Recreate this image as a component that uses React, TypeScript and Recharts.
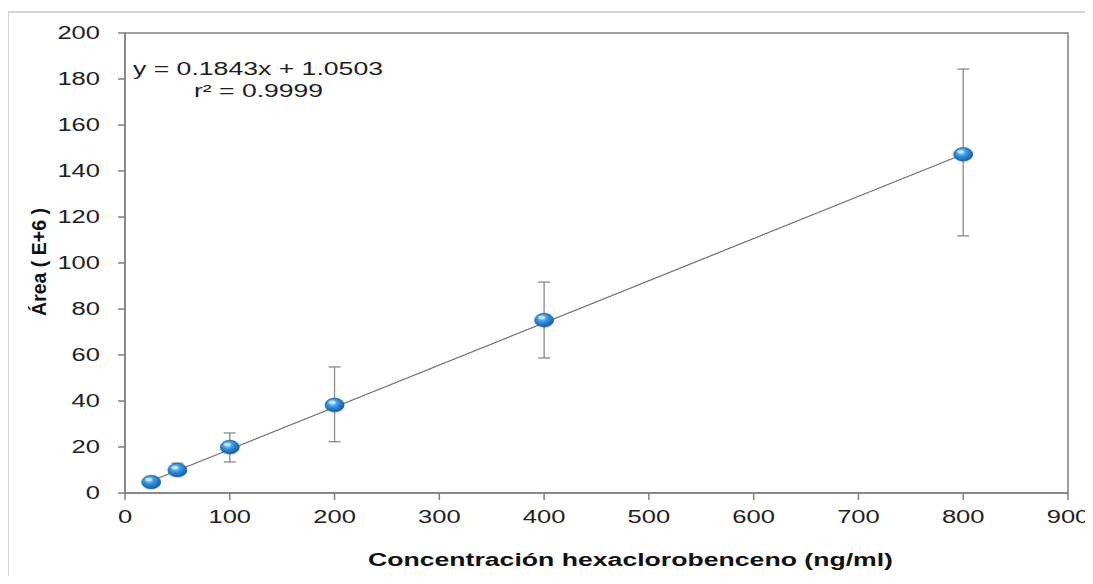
import React from 'react';
import { ScatterChart, Scatter, XAxis, YAxis, ErrorBar, ReferenceArea, Label } from 'recharts';

// calibration points (ng/ml vs area E+6)
const concentrations = [25, 50, 100, 200, 400, 800];
const areas = [4.8, 10, 20, 38.3, 75.2, 147.3];
const errLow = [0, 2, 6.5, 16, 16.5, 35.5];
const errHigh = [0, 3, 6.1, 16.5, 16.5, 37];

// trendline end points
const trendX = [25, 800];
const trendY = [5.2, 147.3];

const xTicks = [0, 100, 200, 300, 400, 500, 600, 700, 800, 900];
const yTicks = [0, 20, 40, 60, 80, 100, 120, 140, 160, 180, 200];

const equation = 'y = 0.1843x + 1.0503';
const rSquared = 'r² = 0.9999';
const xTitle = 'Concentración hexaclorobenceno (ng/ml)';
const yTitle = 'Área ( E+6 )';

const points = concentrations.map((c, i) => ({
    x: c,
    y: areas[i],
    err: [errLow[i], errHigh[i]],
}));
const trend = trendX.map((x, i) => ({ x, y: trendY[i] }));

const FONT = '"Liberation Sans", Arial, sans-serif';
const AXIS = '#808080';
const DIGIT_W = 14.2;

function YTick(p: any) {
    const s = String(p.payload.value);
    const w = s.length * DIGIT_W;
    return (
        <text x={p.x - w} y={p.y} dominantBaseline="central" fontFamily={FONT} fontSize={18} fill="#222"
            textLength={w} lengthAdjust="spacingAndGlyphs">
            {s}
        </text>
    );
}

function XTick(p: any) {
    const s = String(p.payload.value);
    const w = s.length * DIGIT_W;
    return (
        <text x={p.x - w / 2} y={p.y} dy="0.72em" fontFamily={FONT} fontSize={18} fill="#222"
            textLength={w} lengthAdjust="spacingAndGlyphs">
            {s}
        </text>
    );
}

function Marker(p: any) {
    if (p.cx == null || p.cy == null) return <g />;
    return (
        <g>
            <ellipse cx={p.cx} cy={p.cy + 1} rx={10} ry={7.3} fill="rgba(0,0,0,0.12)" />
            <ellipse cx={p.cx} cy={p.cy} rx={9.5} ry={6.8} fill="url(#ballGrad)" stroke="#0b4f96" strokeWidth={0.6} />
            <ellipse cx={p.cx - 2.5} cy={p.cy - 2.5} rx={3.5} ry={1.8} fill="rgba(255,255,255,0.55)" />
        </g>
    );
}

function EquationLabel(props: any) {
    const vb = props.viewBox || { x: 0, y: 0 };
    return (
        <g fontFamily={FONT} fontSize={18} fill="#1e1e1e">
            <text x={vb.x + 8} y={vb.y + 36} dominantBaseline="central" textLength={250} lengthAdjust="spacingAndGlyphs">
                {equation}
            </text>
            <text x={vb.x + 69} y={vb.y + 58} dominantBaseline="central" textLength={129} lengthAdjust="spacingAndGlyphs">
                {rSquared}
            </text>
        </g>
    );
}

function XTitle(props: any) {
    const vb = props.viewBox || { x: 0, y: 0 };
    return (
        <text x={vb.x + 243} y={vb.y + 73} fontFamily={FONT} fontWeight="bold" fontSize={18} fill="#111"
            textLength={525} lengthAdjust="spacingAndGlyphs">
            {xTitle}
        </text>
    );
}

function YTitle() {
    const cx = 31;
    const cy = 254;
    return (
        <text x={cx} y={cy} transform={`rotate(-90 ${cx} ${cy})`} textAnchor="middle" dominantBaseline="central"
            fontFamily={FONT} fontWeight="bold" fontSize={19.5} fill="#111">
            {yTitle}
        </text>
    );
}

export default function App() {
    return (
        <div style={{ position: 'relative', width: 1077, height: 568 }}>
            <div style={{
                position: 'absolute', left: -1, top: 3, width: 1086, height: 573,
                borderTop: '2px solid #d6d6d6', borderLeft: '2px solid #d6d6d6', boxSizing: 'border-box'
            }} />
            <div style={{ position: 'absolute', left: 0, top: 0 }}>
                <ScatterChart width={1077} height={568} margin={{ top: 25, right: 17, left: 0, bottom: 0 }}>
                    <defs>
                        <radialGradient id="ballGrad" cx="40%" cy="35%" r="70%">
                            <stop offset="0%" stopColor="#9bd9ff" />
                            <stop offset="45%" stopColor="#2f8fdc" />
                            <stop offset="100%" stopColor="#0d5aa8" />
                        </radialGradient>
                    </defs>
                    <XAxis type="number" dataKey="x" domain={[0, 900]} ticks={xTicks} interval={0}
                        height={83} tickSize={7} tickMargin={10}
                        axisLine={{ stroke: AXIS, strokeWidth: 1.5 }} tickLine={{ stroke: AXIS, strokeWidth: 1.5 }}
                        tick={<XTick />}>
                        <Label content={<XTitle />} />
                    </XAxis>
                    <YAxis type="number" dataKey="y" domain={[0, 200]} ticks={yTicks} interval={0}
                        width={117} tickSize={7} tickMargin={18}
                        axisLine={{ stroke: AXIS, strokeWidth: 1.5 }} tickLine={{ stroke: AXIS, strokeWidth: 1.5 }}
                        tick={<YTick />}>
                        <Label content={<YTitle />} />
                    </YAxis>
                    <ReferenceArea x1={0} x2={900} y1={0} y2={200} fill="none" stroke={AXIS} strokeWidth={1.5}
                        ifOverflow="visible" label={<EquationLabel />} />
                    <Scatter data={trend} line={{ stroke: '#6e6e6e', strokeWidth: 1.2 }} shape={() => <g />}
                        isAnimationActive={false} />
                    <Scatter data={points} shape={<Marker />} isAnimationActive={false}>
                        <ErrorBar dataKey="err" direction="y" width={6} stroke="#8a8a8a" strokeWidth={1.3} />
                    </Scatter>
                </ScatterChart>
            </div>
        </div>
    );
}
